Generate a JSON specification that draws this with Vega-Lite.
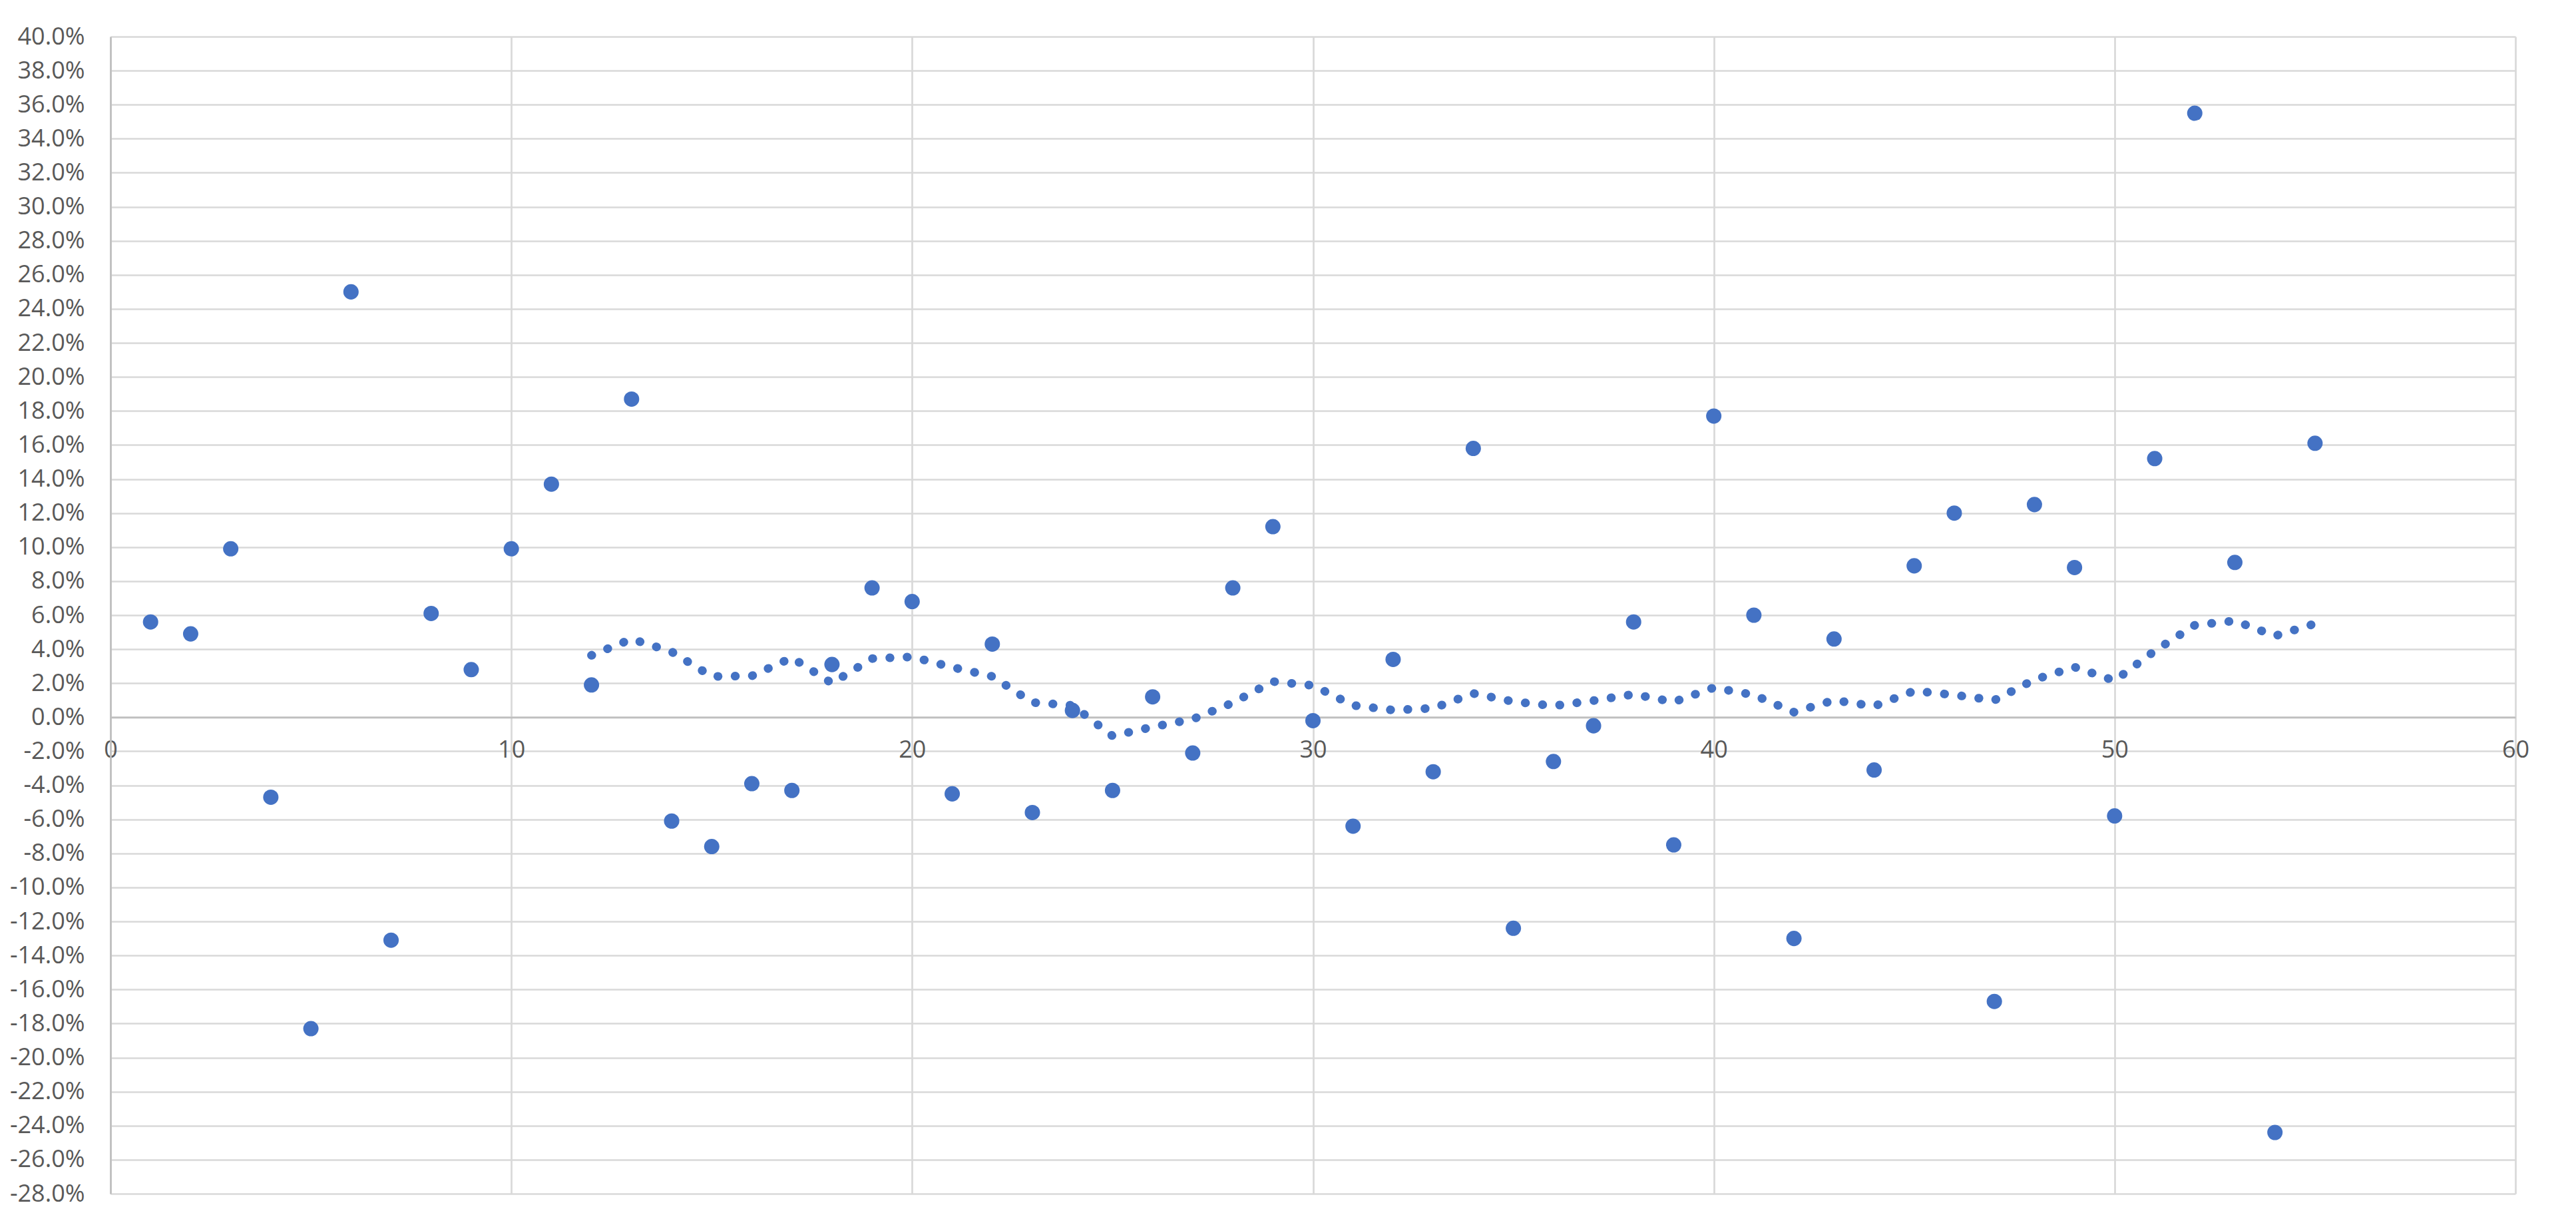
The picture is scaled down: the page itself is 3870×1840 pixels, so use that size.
{
  "$schema": "https://vega.github.io/schema/vega-lite/v6.json",
  "autosize": "none",
  "padding": {"left": 166, "top": 55, "right": 91, "bottom": 47},
  "width": 3613,
  "height": 1738,
  "background": "white",
  "config": {
    "view": {"stroke": null},
    "font": "Open Sans",
    "axis": {"labelFont": "Open Sans", "labelFontSize": 36, "labelColor": "#595959", "ticks": false, "title": null, "gridColor": "#D9D9D9", "gridWidth": 2.7, "domainColor": "#BFBFBF", "domainWidth": 2.7}
  },
  "datasets": {
    "points": [
      {"period": 1, "ret": 0.056}, {"period": 2, "ret": 0.049}, {"period": 3, "ret": 0.099}, {"period": 4, "ret": -0.047},
      {"period": 5, "ret": -0.183}, {"period": 6, "ret": 0.250}, {"period": 7, "ret": -0.131}, {"period": 8, "ret": 0.061},
      {"period": 9, "ret": 0.028}, {"period": 10, "ret": 0.099}, {"period": 11, "ret": 0.137}, {"period": 12, "ret": 0.019},
      {"period": 13, "ret": 0.187}, {"period": 14, "ret": -0.061}, {"period": 15, "ret": -0.076}, {"period": 16, "ret": -0.039},
      {"period": 17, "ret": -0.043}, {"period": 18, "ret": 0.031}, {"period": 19, "ret": 0.076}, {"period": 20, "ret": 0.068},
      {"period": 21, "ret": -0.045}, {"period": 22, "ret": 0.043}, {"period": 23, "ret": -0.056}, {"period": 24, "ret": 0.004},
      {"period": 25, "ret": -0.043}, {"period": 26, "ret": 0.012}, {"period": 27, "ret": -0.021}, {"period": 28, "ret": 0.076},
      {"period": 29, "ret": 0.112}, {"period": 30, "ret": -0.002}, {"period": 31, "ret": -0.064}, {"period": 32, "ret": 0.034},
      {"period": 33, "ret": -0.032}, {"period": 34, "ret": 0.158}, {"period": 35, "ret": -0.124}, {"period": 36, "ret": -0.026},
      {"period": 37, "ret": -0.005}, {"period": 38, "ret": 0.056}, {"period": 39, "ret": -0.075}, {"period": 40, "ret": 0.177},
      {"period": 41, "ret": 0.060}, {"period": 42, "ret": -0.130}, {"period": 43, "ret": 0.046}, {"period": 44, "ret": -0.031},
      {"period": 45, "ret": 0.089}, {"period": 46, "ret": 0.120}, {"period": 47, "ret": -0.167}, {"period": 48, "ret": 0.125},
      {"period": 49, "ret": 0.088}, {"period": 50, "ret": -0.058}, {"period": 51, "ret": 0.152}, {"period": 52, "ret": 0.355},
      {"period": 53, "ret": 0.091}, {"period": 54, "ret": -0.244}, {"period": 55, "ret": 0.161}
    ],
    "movingAvg": [
      {"period": 12, "ma": 0.0364}, {"period": 13, "ma": 0.0460}, {"period": 14, "ma": 0.0385}, {"period": 15, "ma": 0.0240},
      {"period": 16, "ma": 0.0243}, {"period": 17, "ma": 0.0350}, {"period": 18, "ma": 0.0200}, {"period": 19, "ma": 0.0345},
      {"period": 20, "ma": 0.0355}, {"period": 21, "ma": 0.0294}, {"period": 22, "ma": 0.0240}, {"period": 23, "ma": 0.0087},
      {"period": 24, "ma": 0.0070}, {"period": 25, "ma": -0.0110}, {"period": 26, "ma": -0.0057}, {"period": 27, "ma": -0.0011},
      {"period": 28, "ma": 0.0085}, {"period": 29, "ma": 0.0210}, {"period": 30, "ma": 0.0187}, {"period": 31, "ma": 0.0070},
      {"period": 32, "ma": 0.0042}, {"period": 33, "ma": 0.0053}, {"period": 34, "ma": 0.0140}, {"period": 35, "ma": 0.0092},
      {"period": 36, "ma": 0.0067}, {"period": 37, "ma": 0.0098}, {"period": 38, "ma": 0.0135}, {"period": 39, "ma": 0.0090},
      {"period": 40, "ma": 0.0174}, {"period": 41, "ma": 0.0131}, {"period": 42, "ma": 0.0030}, {"period": 43, "ma": 0.0100},
      {"period": 44, "ma": 0.0065}, {"period": 45, "ma": 0.0155}, {"period": 46, "ma": 0.0131}, {"period": 47, "ma": 0.0100},
      {"period": 48, "ma": 0.0221}, {"period": 49, "ma": 0.0295}, {"period": 50, "ma": 0.0215}, {"period": 51, "ma": 0.0390},
      {"period": 52, "ma": 0.0541}, {"period": 53, "ma": 0.0567}, {"period": 54, "ma": 0.0478}, {"period": 55, "ma": 0.0550}
    ]
  },
  "layer": [
    {
      "data": {"name": "points"},
      "mark": {"type": "circle", "size": 530, "color": "#4472C4", "opacity": 1},
      "encoding": {
        "x": {"field": "period", "type": "quantitative",
              "scale": {"domain": [0, 60], "nice": false, "zero": false},
              "axis": {"values": [0, 10, 20, 30, 40, 50, 60], "format": "d", "offset": -715.6, "labelPadding": 32, "grid": true, "labelFlush": false}},
        "y": {"field": "ret", "type": "quantitative",
              "scale": {"domain": [-0.28, 0.40], "nice": false, "zero": false},
              "axis": {"values": [-0.28, -0.26, -0.24, -0.22, -0.2, -0.18, -0.16, -0.14, -0.12, -0.1, -0.08, -0.06, -0.04, -0.02, 0, 0.02, 0.04, 0.06, 0.08, 0.1, 0.12, 0.14, 0.16, 0.18, 0.2, 0.22, 0.24, 0.26, 0.28, 0.3, 0.32, 0.34, 0.36, 0.38, 0.4],
                       "labelExpr": "replace(format(datum.value, '.1%'), '\u2212', '-')", "labelPadding": 39, "grid": true, "labelFlush": false}}
      }
    },
    {
      "data": {"name": "movingAvg"},
      "mark": {"type": "line", "color": "#4472C4", "strokeWidth": 13, "strokeCap": "round", "strokeDash": [0.5, 25.5]},
      "encoding": {
        "x": {"field": "period", "type": "quantitative"},
        "y": {"field": "ma", "type": "quantitative"}
      }
    }
  ]
}
